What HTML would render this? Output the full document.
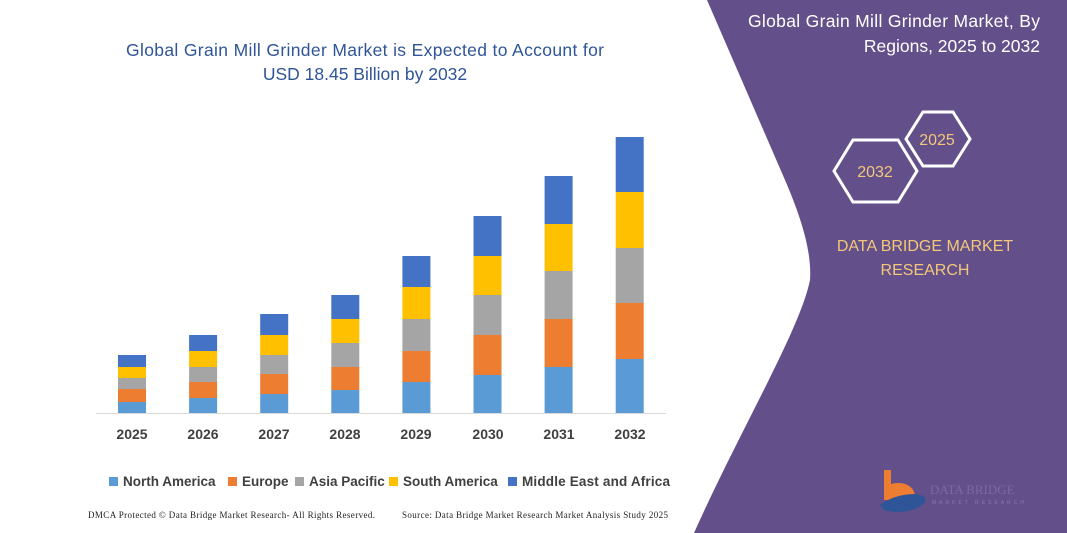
<!DOCTYPE html>
<html><head><meta charset="utf-8"><style>
html,body{margin:0;padding:0;background:#fff;}
body{width:1067px;height:533px;position:relative;overflow:hidden;font-family:"Liberation Sans",sans-serif;}
</style></head><body>
<svg width="1067" height="533" viewBox="0 0 1067 533" style="position:absolute;left:0;top:0">
<path d="M707,0 L1067,0 L1067,533 L694,533 C740,430 800,330 810,280 C812,250 800,215 785,180 Z" fill="#634f8a"/>
<text x="365" y="56" text-anchor="middle" font-size="17.5" fill="#2f5597" font-family="Liberation Sans, sans-serif" textLength="478">Global Grain Mill Grinder Market is Expected to Account for</text>
<text x="365" y="80" text-anchor="middle" font-size="17.5" fill="#2f5597" font-family="Liberation Sans, sans-serif">USD 18.45 Billion by 2032</text>
<line x1="96" y1="413.5" x2="666" y2="413.5" stroke="#d9d9d9" stroke-width="1"/>
<g id="bars"></g>
<g font-size="14" font-weight="bold" fill="#404040" text-anchor="middle">
<text x="132" y="439">2025</text><text x="203" y="439">2026</text><text x="274" y="439">2027</text><text x="345" y="439">2028</text><text x="416" y="439">2029</text><text x="488" y="439">2030</text><text x="559" y="439">2031</text><text x="630" y="439">2032</text>
</g>
<g font-size="13.5" font-weight="bold" fill="#404040">
<rect x="109" y="477" width="9" height="9" fill="#5b9bd5"/><text x="123" y="486">North America</text>
<rect x="228" y="477" width="9" height="9" fill="#ed7d31"/><text x="242" y="486">Europe</text>
<rect x="295" y="477" width="9" height="9" fill="#a5a5a5"/><text x="309" y="486">Asia Pacific</text>
<rect x="389" y="477" width="9" height="9" fill="#ffc000"/><text x="403" y="486">South America</text>
<rect x="508" y="477" width="9" height="9" fill="#4472c4"/><text x="522" y="486" textLength="148">Middle East and Africa</text>
</g>
<text x="88" y="518" font-size="9" fill="#222" font-family="Liberation Serif, serif" textLength="287">DMCA Protected © Data Bridge Market Research- All Rights Reserved.</text>
<text x="402" y="518" font-size="9" fill="#222" font-family="Liberation Serif, serif" textLength="266">Source: Data Bridge Market Research Market Analysis Study 2025</text>
<text x="1040" y="27" text-anchor="end" font-size="17.5" fill="#fff" textLength="292">Global Grain Mill Grinder Market, By</text>
<text x="1040" y="52" text-anchor="end" font-size="17.5" fill="#fff">Regions, 2025 to 2032</text>
<polygon points="923,112 953,112 970,139 953,166 923,166 906,139" fill="none" stroke="#fff" stroke-width="3"/>
<text x="937" y="145" text-anchor="middle" font-size="16" fill="#f3c87a">2025</text>
<polygon points="853,140 898,140 917,171 898,202 853,202 834,171" fill="none" stroke="#fff" stroke-width="3"/>
<text x="875" y="177" text-anchor="middle" font-size="16" fill="#f3c87a">2032</text>
<text x="925" y="251" text-anchor="middle" font-size="16" fill="#f3c87a">DATA BRIDGE MARKET</text>
<text x="925" y="275" text-anchor="middle" font-size="16" fill="#f3c87a">RESEARCH</text>
<path d="M884,470 L891,470 L891,484 C905,480 918,488 914,500 L884,500 Z" fill="#ed7d31"/>
<path d="M880,505 C900,490 930,492 925,502 C918,512 895,514 884,510 Z" fill="#2e5597"/>
<text x="930" y="494" font-size="13" fill="#7b6aa0" font-family="Liberation Serif, serif">DATA BRIDGE</text>
<text x="932" y="504" font-size="5" fill="#8a7aaa" letter-spacing="3">MARKET RESEARCH</text>
</svg>
<script>
var d=[[355,367,378,389,402],[335,351,367,382,398],[314,335,355,374,394],[295,319,343,367,390],[256,287,319,351,382],[216,256,295,335,375],[176,224,271,319,367],[137,192,248,303,359]];
var c=["#4472c4","#ffc000","#a5a5a5","#ed7d31","#5b9bd5"];
var g=document.getElementById("bars"),s="";
d.forEach(function(b,i){var x=118+i*71.1;for(var k=0;k<5;k++){var y0=b[k],y1=k<4?b[k+1]:413;s+='<rect x="'+x+'" y="'+y0+'" width="28" height="'+(y1-y0)+'" fill="'+c[k]+'"/>';}});
g.innerHTML=s;
</script>
</body></html>
